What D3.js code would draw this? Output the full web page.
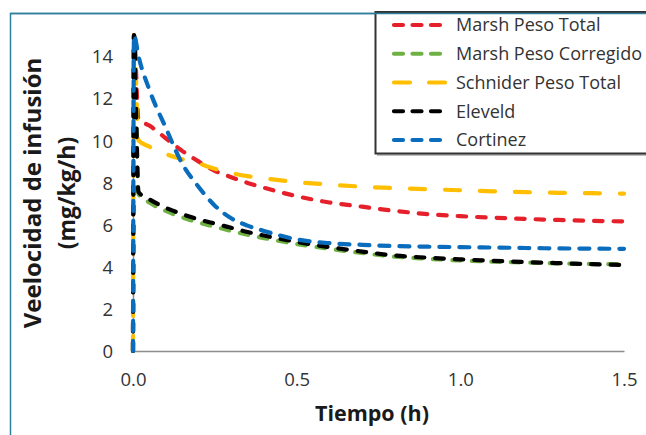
<!DOCTYPE html>
<html>
<head>
<meta charset="utf-8">
<script src="https://cdn.jsdelivr.net/npm/d3@7"></script>
<style>
  html, body { margin: 0; padding: 0; background: #fff; }
  svg { display: block; }
</style>
</head>
<body>
<svg id="chart" width="646" height="435"></svg>
<script>
// Time points (h) shared by all series
const tiempo = [0, 0.003, 0.0167, 0.05, 0.1, 0.15, 0.2, 0.25, 0.3, 0.35, 0.4, 0.5, 0.6, 0.7, 0.8, 0.9, 1.0, 1.1, 1.2, 1.3, 1.4, 1.5];

// Infusion rate (mg/kg/h) for each model
const marshPesoTotal      = [0, 15, 11.0, 10.7, 10.1, 9.5, 9.0, 8.55, 8.25, 7.98, 7.75, 7.35, 7.05, 6.85, 6.65, 6.5, 6.4, 6.33, 6.27, 6.22, 6.18, 6.15];
const marshPesoCorregido  = [0, 15, 7.45, 7.05, 6.65, 6.35, 6.1, 5.9, 5.7, 5.52, 5.36, 5.08, 4.85, 4.65, 4.48, 4.38, 4.3, 4.24, 4.2, 4.16, 4.13, 4.12];
const schniderPesoTotal   = [0, 15, 10.0, 9.7, 9.35, 9.1, 8.9, 8.65, 8.45, 8.3, 8.2, 8.02, 7.9, 7.8, 7.73, 7.68, 7.63, 7.58, 7.54, 7.51, 7.49, 7.47];
const eleveld             = [0, 15, 7.55, 7.2, 6.8, 6.5, 6.25, 6.05, 5.85, 5.65, 5.48, 5.18, 4.93, 4.72, 4.53, 4.43, 4.35, 4.28, 4.22, 4.17, 4.12, 4.08];
const cortinez            = [0, 15, 14.0, 12.4, 10.6, 8.9, 7.8, 6.9, 6.3, 5.95, 5.7, 5.3, 5.12, 5.04, 4.98, 4.95, 4.93, 4.91, 4.89, 4.87, 4.86, 4.85];

const seriesNames  = ["Marsh Peso Total", "Marsh Peso Corregido", "Schnider Peso Total", "Eleveld", "Cortinez"];
const seriesValues = [marshPesoTotal, marshPesoCorregido, schniderPesoTotal, eleveld, cortinez];

const xTicks = [0, 0.5, 1.0, 1.5];
const yTicks = [0, 2, 4, 6, 8, 10, 12, 14];

// Styles per series
const colors = ["#e5202b", "#6fb043", "#ffbf00", "#000000", "#0a6cbd"];
const dashes = ["8.5,11", "8.5,11", "15,20", "8.5,11", "10,10"];

const svg = d3.select("#chart");
const fontFam = "'Open Sans', 'DejaVu Sans', sans-serif";
const textCol = "#333333";

const plot = { left: 133, right: 624, top: 35, bottom: 351 };
const x = d3.scaleLinear().domain([0, 1.5]).range([plot.left, plot.right]);
const y = d3.scaleLinear().domain([0, 15]).range([plot.bottom, plot.top]);

// Outer frame
svg.append("rect")
  .attr("x", 10.5).attr("y", 13.5).attr("width", 700).attr("height", 500)
  .attr("fill", "none").attr("stroke", "#2f7f9c").attr("stroke-width", 1.5);

// Axes
const xAxis = svg.append("g").attr("transform", `translate(0,${plot.bottom})`)
  .call(d3.axisBottom(x).tickValues(xTicks).tickFormat(d3.format(".1f")).tickSize(0).tickPadding(22));
const yAxis = svg.append("g").attr("transform", `translate(${plot.left},0)`)
  .call(d3.axisLeft(y).tickValues(yTicks).tickFormat(d3.format("d")).tickSize(0).tickPadding(20));

[xAxis, yAxis].forEach(g => {
  g.select(".domain").attr("stroke", "#8c8c8c").attr("stroke-width", 1.5);
  g.selectAll("text").attr("font-family", fontFam).attr("font-size", 18.5).attr("fill", textCol);
});
yAxis.selectAll("text").attr("dy", "0.36em");

// Lines
const line = d3.line()
  .x((d, i) => x(tiempo[i]))
  .y(d => y(d))
  .curve(d3.curveMonotoneX);

svg.append("g").selectAll("path")
  .data(seriesValues)
  .join("path")
  .attr("d", d => line(d))
  .attr("fill", "none")
  .attr("stroke", (d, i) => colors[i])
  .attr("stroke-width", 4.2)
  .attr("stroke-linecap", "round")
  .attr("stroke-linejoin", "round")
  .attr("stroke-dasharray", (d, i) => dashes[i]);

// Axis titles
svg.append("text")
  .attr("x", x(0.73)).attr("y", 421)
  .attr("text-anchor", "middle")
  .attr("font-family", fontFam).attr("font-weight", "bold").attr("font-size", 21.5)
  .attr("fill", "#1a1a1a")
  .text("Tiempo (h)");

const yTitle = svg.append("g").attr("transform", "translate(50,193) rotate(-90)");
yTitle.append("text")
  .attr("x", 0).attr("y", -9)
  .attr("text-anchor", "middle")
  .attr("font-family", fontFam).attr("font-weight", "bold").attr("font-size", 24)
  .attr("fill", "#1a1a1a")
  .text("Veelocidad de infusión");
yTitle.append("text")
  .attr("x", 0).attr("y", 25)
  .attr("text-anchor", "middle")
  .attr("font-family", fontFam).attr("font-weight", "bold").attr("font-size", 23)
  .attr("fill", "#1a1a1a")
  .text("(mg/kg/h)");

// Legend
const legend = svg.append("g");
legend.append("rect")
  .attr("x", 377).attr("y", 14).attr("width", 320).attr("height", 142)
  .attr("fill", "#bdbdbd");
legend.append("rect")
  .attr("x", 375.5).attr("y", 12).attr("width", 320).attr("height", 141.5)
  .attr("fill", "#fff").attr("stroke", "#333").attr("stroke-width", 2);

const rowY = d3.scalePoint().domain(seriesNames).range([25, 140]);
const items = legend.selectAll("g.item").data(seriesNames).join("g")
  .attr("class", "item")
  .attr("transform", d => `translate(0,${rowY(d)})`);
items.append("line")
  .attr("x1", 394).attr("x2", 446)
  .attr("stroke", (d, i) => colors[i])
  .attr("stroke-width", 4.2)
  .attr("stroke-linecap", "round")
  .attr("stroke-dasharray", (d, i) => i === 2 ? "16,19" : "9,9.5");
items.append("text")
  .attr("x", 456).attr("y", 0).attr("dy", "0.35em")
  .attr("font-family", fontFam).attr("font-size", 18)
  .attr("fill", textCol)
  .text(d => d);

// Top edge of the frame runs over the legend
svg.append("line")
  .attr("x1", 10).attr("x2", 646).attr("y1", 13.5).attr("y2", 13.5)
  .attr("stroke", "#2f7f9c").attr("stroke-width", 1.5);
</script>
</body>
</html>
